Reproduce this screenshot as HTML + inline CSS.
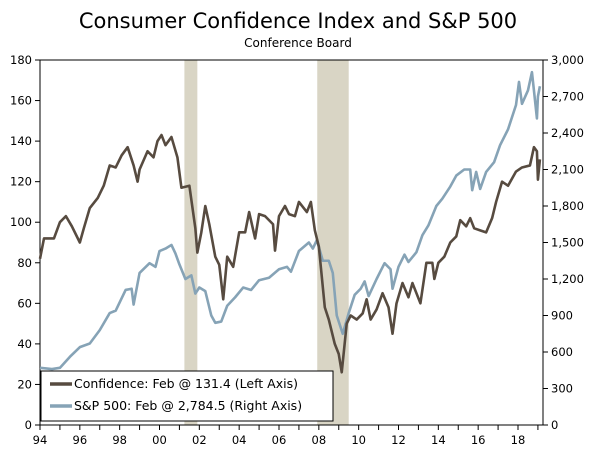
<!DOCTYPE html>
<html><head><meta charset="utf-8"><style>
body{margin:0;background:#fff;}
svg text{font-family:"DejaVu Sans","Liberation Sans",sans-serif;fill:#000;}
</style></head><body>
<svg id="chart" width="600" height="452" viewBox="0 0 600 452">
<text x="298" y="28" text-anchor="middle" font-size="21">Consumer Confidence Index and S&amp;P 500</text>
<text x="298" y="47" text-anchor="middle" font-size="12">Conference Board</text>
<g id="rec"></g>
<g id="axes"></g>
<g id="lines"></g>
<g>
<rect x="41" y="371" width="292" height="50" fill="#fff" stroke="#000" stroke-width="1"/>
<line x1="50" y1="384" x2="72" y2="384" stroke="#574b40" stroke-width="3.5"/>
<text x="74" y="388" font-size="12.5">Confidence: Feb @ 131.4 (Left Axis)</text>
<line x1="50" y1="406" x2="72" y2="406" stroke="#86a3b6" stroke-width="3.5"/>
<text x="74" y="410" font-size="12.5">S&amp;P 500: Feb @ 2,784.5 (Right Axis)</text>
</g>
</svg>
<script>
const confDates=[1994.0,1994.2,1994.7,1995.0,1995.3,1995.6,1996.0,1996.2,1996.5,1996.9,1997.2,1997.5,1997.8,1998.1,1998.4,1998.7,1998.9,1999.0,1999.4,1999.7,1999.9,2000.1,2000.3,2000.6,2000.9,2001.1,2001.5,2001.8,2001.9,2002.1,2002.3,2002.5,2002.8,2003.0,2003.2,2003.4,2003.7,2004.0,2004.3,2004.5,2004.8,2005.0,2005.3,2005.7,2005.8,2006.0,2006.3,2006.5,2006.8,2007.0,2007.4,2007.6,2007.8,2008.0,2008.3,2008.5,2008.8,2009.0,2009.15,2009.4,2009.6,2009.9,2010.2,2010.4,2010.6,2010.9,2011.2,2011.5,2011.7,2011.9,2012.2,2012.5,2012.7,2012.9,2013.1,2013.4,2013.7,2013.8,2014.0,2014.3,2014.6,2014.9,2015.1,2015.4,2015.6,2015.8,2016.1,2016.4,2016.7,2016.9,2017.2,2017.5,2017.9,2018.2,2018.6,2018.8,2018.95,2019.0,2019.1];
const confValues=[82,92,92,100,103,98,90,97,107,112,118,128,127,133,137,128,120,126,135,132,140,143,138,142,132,117,118,97,85,95,108,99,83,79,62,83,78,95,95,105,92,104,103,99,86,103,108,104,103,110,105,110,96,88,58,52,40,35,26,50,54,52,55,62,52,57,65,58,45,60,70,63,70,65,60,80,80,72,80,83,90,93,101,98,102,97,96,95,102,110,120,118,125,127,128,137,135,121,131];
const spDates=[1994.0,1994.6,1995.0,1995.5,1996.0,1996.5,1997.0,1997.5,1997.8,1998.3,1998.6,1998.7,1999.0,1999.5,1999.8,2000.0,2000.3,2000.6,2000.8,2001.0,2001.3,2001.6,2001.8,2002.0,2002.3,2002.6,2002.8,2003.1,2003.4,2003.8,2004.2,2004.6,2005.0,2005.5,2006.0,2006.4,2006.6,2007.0,2007.5,2007.7,2007.9,2008.2,2008.5,2008.7,2008.9,2009.2,2009.5,2009.8,2010.1,2010.3,2010.5,2010.9,2011.3,2011.6,2011.7,2012.0,2012.3,2012.5,2012.9,2013.2,2013.5,2013.9,2014.2,2014.6,2014.9,2015.3,2015.6,2015.7,2015.9,2016.1,2016.4,2016.8,2017.1,2017.5,2017.9,2018.05,2018.2,2018.5,2018.7,2018.8,2018.95,2019.0,2019.1];
const spValues=[470,460,470,560,640,670,780,920,940,1110,1120,990,1250,1330,1300,1430,1450,1480,1410,1320,1200,1230,1080,1130,1100,900,840,850,980,1050,1130,1110,1190,1210,1280,1300,1260,1430,1500,1450,1520,1350,1350,1250,900,750,920,1070,1120,1180,1060,1200,1330,1280,1120,1300,1400,1340,1420,1560,1640,1800,1860,1960,2050,2100,2100,1930,2080,1940,2080,2160,2300,2430,2630,2820,2640,2750,2900,2750,2520,2700,2784];
const xTickLabels=["94","96","98","00","02","04","06","08","10","12","14","16","18"];
const leftTicks=[0,20,40,60,80,100,120,140,160,180];
const rightTicks=["0","300","600","900","1,200","1,500","1,800","2,100","2,400","2,700","3,000"];
const recessions=[[2001.25,2001.9],[2007.92,2009.5]];

const NS="http://www.w3.org/2000/svg";
const L=40,R=543,T=60,B=425;
const x=y=>L+(y-1994)*(518-40)/24;
const yl=v=>B-v*(B-T)/180;
const yr=v=>B-v*(B-T)/3000;
function mk(tag,attrs,parent){const e=document.createElementNS(NS,tag);for(const k in attrs)e.setAttribute(k,attrs[k]);parent.appendChild(e);return e;}
const rec=document.getElementById('rec'),ax=document.getElementById('axes'),ln=document.getElementById('lines');
recessions.forEach(r=>{const e=mk('rect',{x:x(r[0]),y:T,width:x(r[1])-x(r[0]),height:B-T,fill:'#d9d5c5'},rec);

});
mk('rect',{x:L,y:T,width:R-L,height:B-T,fill:'none',stroke:'#000','stroke-width':1},ax);
leftTicks.forEach(v=>{mk('line',{x1:L-5,x2:L,y1:yl(v),y2:yl(v),stroke:'#000'},ax);
const t=mk('text',{x:L-8,y:yl(v)+4,'text-anchor':'end','font-size':11.5},ax);t.textContent=v;

});
rightTicks.forEach((s,i)=>{const v=i*300;mk('line',{x1:R,x2:R+5,y1:yr(v),y2:yr(v),stroke:'#000'},ax);
const t=mk('text',{x:R+8,y:yr(v)+4,'text-anchor':'start','font-size':11.5},ax);t.textContent=s;

});
for(let yy=1994;yy<=2019;yy++){mk('line',{x1:x(yy),x2:x(yy),y1:B,y2:B+5,stroke:'#000'},ax);}
xTickLabels.forEach((s,i)=>{const t=mk('text',{x:x(1994+2*i),y:444,'text-anchor':'middle','font-size':11.5},ax);t.textContent=s;

});
const p1=mk('polyline',{points:spDates.map((d,i)=>x(d)+','+yr(spValues[i])).join(' '),fill:'none',stroke:'#86a3b6','stroke-width':2.6,'stroke-linejoin':'round'},ln);


const p2=mk('polyline',{points:confDates.map((d,i)=>x(d)+','+yl(confValues[i])).join(' '),fill:'none',stroke:'#574b40','stroke-width':2.6,'stroke-linejoin':'round'},ln);


</script>
</body></html>
